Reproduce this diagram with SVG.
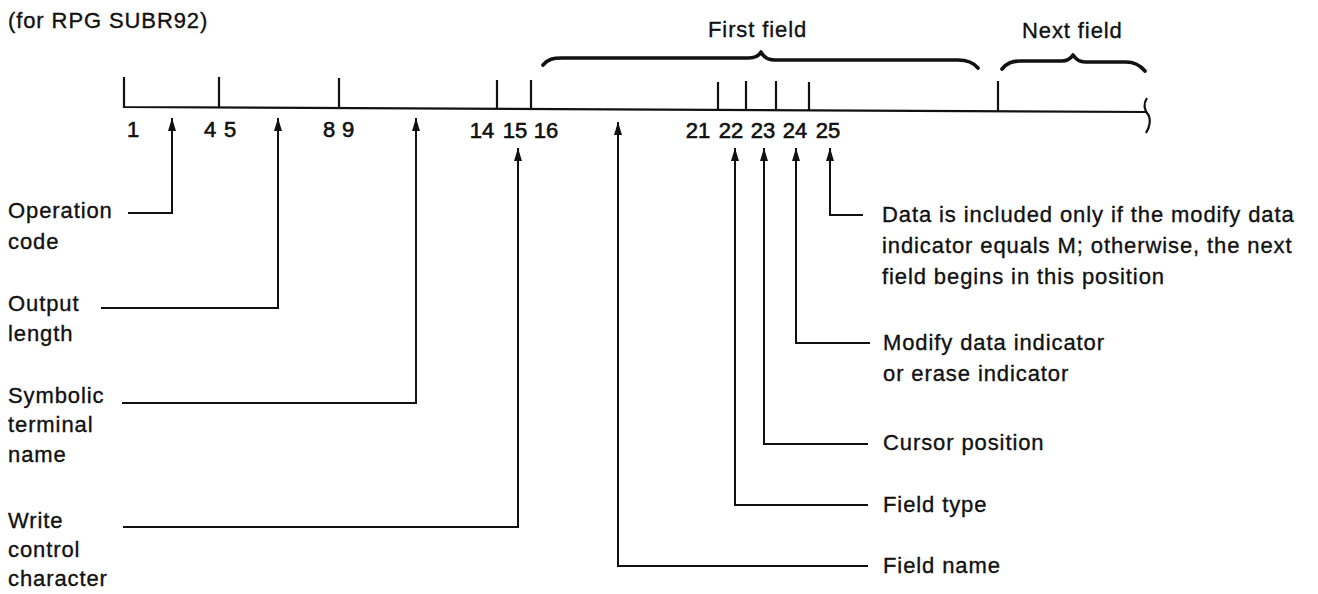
<svg xmlns="http://www.w3.org/2000/svg" width="1318" height="594" viewBox="0 0 1318 594">
  <style>
    .t { font-family: "Liberation Sans", Arial, sans-serif; font-size: 22px; letter-spacing: 0.9px; fill: #111; stroke: #111; stroke-width: 0.35px; }
    .n { font-family: "Liberation Sans", Arial, sans-serif; font-size: 22px; fill: #111; stroke: #111; stroke-width: 0.6px; text-anchor: middle; }
    .tk { fill: none; stroke: #111; stroke-width: 2.2; }
    .br { fill: none; stroke: #111; stroke-width: 3.6; stroke-linecap: round; stroke-linejoin: round; }
    .ar { fill: none; stroke: #111; stroke-width: 2; marker-end: url(#ah); }
  </style>
  <defs>
    <marker id="ah" viewBox="0 0 13 8" refX="13" refY="4" markerWidth="13" markerHeight="8" markerUnits="userSpaceOnUse" orient="auto">
      <path d="M0,0 L13,4 L0,8 z" fill="#111"/>
    </marker>
  </defs>
  <rect width="1318" height="594" fill="#fff"/>

  <g id="title"><text class="t" x="8" y="28">(for RPG SUBR92)</text></g>

  <g id="record">
    <path class="tk" d="M124,77 L124,107 L1146,112"/>
    <path class="tk" d="M219,77 V107.5 M339,78 V108 M497,80 V109 M531,80 V109 M718,82 V110 M746,81 V110 M776,81 V110 M809,82 V110 M998,81 V111"/>
    <path class="tk" d="M1147,98 C1143,104 1144,110 1149,116 C1151,122 1149,128 1146,133"/>
    <text class="n" x="133" y="137">1</text>
    <text class="n" x="210" y="137">4</text>
    <text class="n" x="230" y="137">5</text>
    <text class="n" x="329" y="137">8</text>
    <text class="n" x="348" y="137">9</text>
    <text class="n" x="482" y="138">14</text>
    <text class="n" x="515" y="138">15</text>
    <text class="n" x="546" y="138">16</text>
    <text class="n" x="698" y="138">21</text>
    <text class="n" x="731" y="138">22</text>
    <text class="n" x="763" y="138">23</text>
    <text class="n" x="795" y="138">24</text>
    <text class="n" x="828" y="138">25</text>
  </g>

  <g id="first-field">
    <path class="br" d="M543,65 C548,59 553,58 562,58 L748,58 C755,58 759,56 761,52 C763,56 767,60 775,60 L958,60 C967,60 973,62 978,68"/>
    <text class="t" x="708" y="37">First field</text>
  </g>

  <g id="next-field">
    <path class="br" d="M1002,69 C1007,63 1012,61 1021,61 L1062,61 C1068,61 1071,58 1073,55 C1075,58 1078,62 1085,62 L1126,62 C1135,62 1140,65 1145,71"/>
    <text class="t" x="1022" y="38">Next field</text>
  </g>

  <g id="operation-code">
    <text class="t" x="8" y="218">Operation</text>
    <text class="t" x="8" y="249">code</text>
  </g>
  <g id="output-length">
    <text class="t" x="8" y="311">Output</text>
    <text class="t" x="8" y="341">length</text>
  </g>
  <g id="symbolic-terminal-name">
    <text class="t" x="8" y="403">Symbolic</text>
    <text class="t" x="8" y="432">terminal</text>
    <text class="t" x="8" y="462">name</text>
  </g>
  <g id="write-control-character">
    <text class="t" x="8" y="528">Write</text>
    <text class="t" x="8" y="557">control</text>
    <text class="t" x="8" y="586">character</text>
  </g>
  <g id="data">
    <text class="t" x="882" y="222">Data is included only if the modify data</text>
    <text class="t" x="882" y="253">indicator equals M; otherwise, the next</text>
    <text class="t" x="882" y="284">field begins in this position</text>
  </g>
  <g id="modify-data-indicator">
    <text class="t" x="883" y="350">Modify data indicator</text>
    <text class="t" x="883" y="381">or erase indicator</text>
  </g>
  <g id="cursor-position"><text class="t" x="883" y="450">Cursor position</text></g>
  <g id="field-type"><text class="t" x="883" y="512">Field type</text></g>
  <g id="field-name"><text class="t" x="883" y="573">Field name</text></g>

  <g id="connectors">
    <path class="ar" d="M128,213 H172 V118"/>
    <path class="ar" d="M101,308 H278 V118"/>
    <path class="ar" d="M122,403 H416 V118"/>
    <path class="ar" d="M123,527 H518 V148"/>
    <path class="ar" d="M868,566 H618 V122"/>
    <path class="ar" d="M868,505 H735 V148"/>
    <path class="ar" d="M868,444 H764 V148"/>
    <path class="ar" d="M870,343 H796 V148"/>
    <path class="ar" d="M863,215 H830 V148"/>
  </g>
</svg>
